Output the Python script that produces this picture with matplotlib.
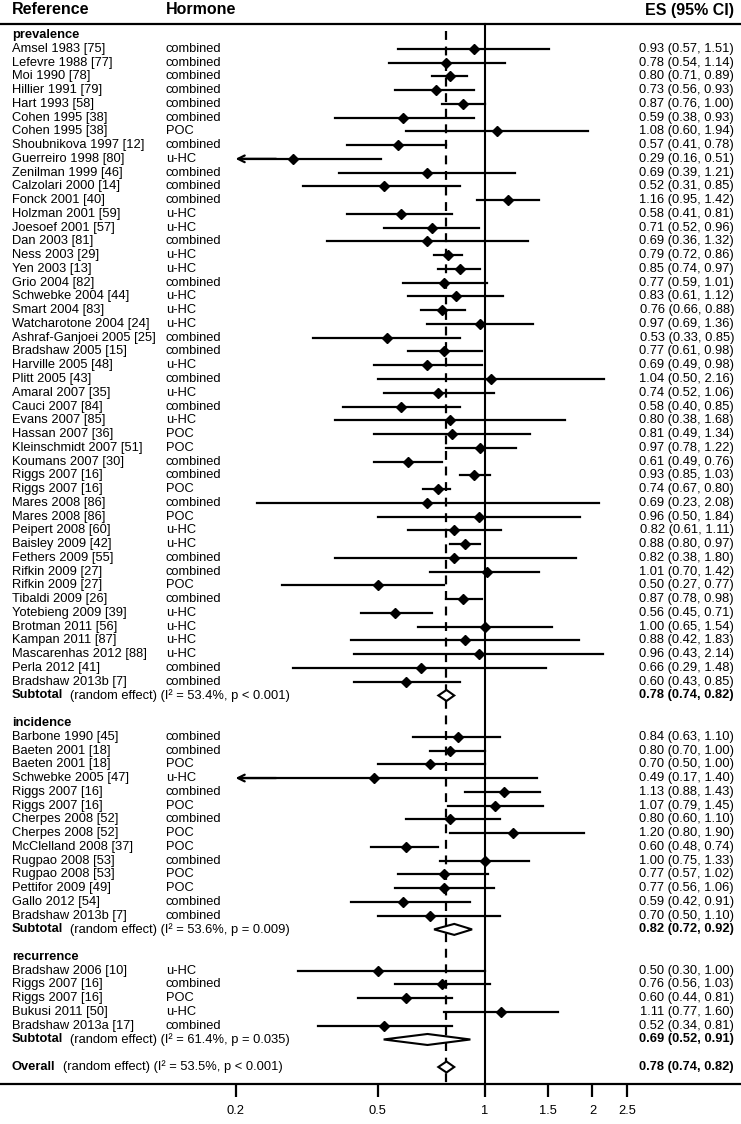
import numpy as np
import matplotlib.pyplot as plt
from matplotlib.patches import Polygon

plt.rcParams['font.family'] = ['Liberation Sans', 'DejaVu Sans']

# ---- data ----
groups = ['prevalence', 'incidence', 'recurrence']

prev_ref = ['Amsel 1983 [75]', 'Lefevre 1988 [77]', 'Moi 1990 [78]', 'Hillier 1991 [79]',
            'Hart 1993 [58]', 'Cohen 1995 [38]', 'Cohen 1995 [38]', 'Shoubnikova 1997 [12]',
            'Guerreiro 1998 [80]', 'Zenilman 1999 [46]', 'Calzolari 2000 [14]', 'Fonck 2001 [40]',
            'Holzman 2001 [59]', 'Joesoef 2001 [57]', 'Dan 2003 [81]', 'Ness 2003 [29]',
            'Yen 2003 [13]', 'Grio 2004 [82]', 'Schwebke 2004 [44]', 'Smart 2004 [83]',
            'Watcharotone 2004 [24]', 'Ashraf-Ganjoei 2005 [25]', 'Bradshaw 2005 [15]',
            'Harville 2005 [48]', 'Plitt 2005 [43]', 'Amaral 2007 [35]', 'Cauci 2007 [84]',
            'Evans 2007 [85]', 'Hassan 2007 [36]', 'Kleinschmidt 2007 [51]', 'Koumans 2007 [30]',
            'Riggs 2007 [16]', 'Riggs 2007 [16]', 'Mares 2008 [86]', 'Mares 2008 [86]',
            'Peipert 2008 [60]', 'Baisley 2009 [42]', 'Fethers 2009 [55]', 'Rifkin 2009 [27]',
            'Rifkin 2009 [27]', 'Tibaldi 2009 [26]', 'Yotebieng 2009 [39]', 'Brotman 2011 [56]',
            'Kampan 2011 [87]', 'Mascarenhas 2012 [88]', 'Perla 2012 [41]', 'Bradshaw 2013b [7]']
prev_horm = ['combined', 'combined', 'combined', 'combined', 'combined', 'combined', 'POC',
             'combined', 'u-HC', 'combined', 'combined', 'combined', 'u-HC', 'u-HC', 'combined',
             'u-HC', 'u-HC', 'combined', 'u-HC', 'u-HC', 'u-HC', 'combined', 'combined', 'u-HC',
             'combined', 'u-HC', 'combined', 'u-HC', 'POC', 'POC', 'combined', 'combined', 'POC',
             'combined', 'POC', 'u-HC', 'u-HC', 'combined', 'combined', 'POC', 'combined', 'u-HC',
             'u-HC', 'u-HC', 'u-HC', 'combined', 'combined']
prev_es = [0.93, 0.78, 0.80, 0.73, 0.87, 0.59, 1.08, 0.57, 0.29, 0.69, 0.52, 1.16, 0.58, 0.71,
           0.69, 0.79, 0.85, 0.77, 0.83, 0.76, 0.97, 0.53, 0.77, 0.69, 1.04, 0.74, 0.58, 0.80,
           0.81, 0.97, 0.61, 0.93, 0.74, 0.69, 0.96, 0.82, 0.88, 0.82, 1.01, 0.50, 0.87, 0.56,
           1.00, 0.88, 0.96, 0.66, 0.60]
prev_lo = [0.57, 0.54, 0.71, 0.56, 0.76, 0.38, 0.60, 0.41, 0.16, 0.39, 0.31, 0.95, 0.41, 0.52,
           0.36, 0.72, 0.74, 0.59, 0.61, 0.66, 0.69, 0.33, 0.61, 0.49, 0.50, 0.52, 0.40, 0.38,
           0.49, 0.78, 0.49, 0.85, 0.67, 0.23, 0.50, 0.61, 0.80, 0.38, 0.70, 0.27, 0.78, 0.45,
           0.65, 0.42, 0.43, 0.29, 0.43]
prev_hi = [1.51, 1.14, 0.89, 0.93, 1.00, 0.93, 1.94, 0.78, 0.51, 1.21, 0.85, 1.42, 0.81, 0.96,
           1.32, 0.86, 0.97, 1.01, 1.12, 0.88, 1.36, 0.85, 0.98, 0.98, 2.16, 1.06, 0.85, 1.68,
           1.34, 1.22, 0.76, 1.03, 0.80, 2.08, 1.84, 1.11, 0.97, 1.80, 1.42, 0.77, 0.98, 0.71,
           1.54, 1.83, 2.14, 1.48, 0.85]

inc_ref = ['Barbone 1990 [45]', 'Baeten 2001 [18]', 'Baeten 2001 [18]', 'Schwebke 2005 [47]',
           'Riggs 2007 [16]', 'Riggs 2007 [16]', 'Cherpes 2008 [52]', 'Cherpes 2008 [52]',
           'McClelland 2008 [37]', 'Rugpao 2008 [53]', 'Rugpao 2008 [53]', 'Pettifor 2009 [49]',
           'Gallo 2012 [54]', 'Bradshaw 2013b [7]']
inc_horm = ['combined', 'combined', 'POC', 'u-HC', 'combined', 'POC', 'combined', 'POC', 'POC',
            'combined', 'POC', 'POC', 'combined', 'combined']
inc_es = [0.84, 0.80, 0.70, 0.49, 1.13, 1.07, 0.80, 1.20, 0.60, 1.00, 0.77, 0.77, 0.59, 0.70]
inc_lo = [0.63, 0.70, 0.50, 0.17, 0.88, 0.79, 0.60, 0.80, 0.48, 0.75, 0.57, 0.56, 0.42, 0.50]
inc_hi = [1.10, 1.00, 1.00, 1.40, 1.43, 1.45, 1.10, 1.90, 0.74, 1.33, 1.02, 1.06, 0.91, 1.10]

rec_ref = ['Bradshaw 2006 [10]', 'Riggs 2007 [16]', 'Riggs 2007 [16]', 'Bukusi 2011 [50]',
           'Bradshaw 2013a [17]']
rec_horm = ['u-HC', 'combined', 'POC', 'u-HC', 'combined']
rec_es = [0.50, 0.76, 0.60, 1.11, 0.52]
rec_lo = [0.30, 0.56, 0.44, 0.77, 0.34]
rec_hi = [1.00, 1.03, 0.81, 1.60, 0.81]

sub_es = [0.78, 0.82, 0.69]
sub_lo = [0.74, 0.72, 0.52]
sub_hi = [0.82, 0.92, 0.91]
sub_i2 = ['53.4%', '53.6%', '61.4%']
sub_p = ['p < 0.001', 'p = 0.009', 'p = 0.035']

overall_es, overall_lo, overall_hi = 0.78, 0.74, 0.82
overall_i2, overall_p = '53.5%', 'p < 0.001'

xticks = [0.2, 0.5, 1, 1.5, 2, 2.5]
xmin_plot = 0.2

# ---- layout ----
W, H = 741, 1124
fig = plt.figure(figsize=(W / 100, H / 100), dpi=100)
ax = fig.add_axes([0, 0, 1, 1])
ax.set_xscale('log')
ax.set_xlim(np.exp(-485 / 155), np.exp((W - 485) / 155))
ax.set_ylim(H, 0)
for s in ['top', 'left', 'right']:
    ax.spines[s].set_visible(False)
tr = ax.get_yaxis_transform()

fs = 9.3
x_ref, x_horm, x_es = 12 / W, 166 / W, 734 / W
y0, step = 35, 13.76
axis_y = 1084

# header
ax.text(x_ref, 10, 'Reference', transform=tr, fontsize=11.5, fontweight='bold', va='center')
ax.text(x_horm, 10, 'Hormone', transform=tr, fontsize=11.5, fontweight='bold', va='center')
ax.text(x_es, 10, 'ES (95% CI)', transform=tr, fontsize=11.5, fontweight='bold', va='center', ha='right')
ax.axhline(24, color='black', lw=1.6)

def fmt(e, l, h):
    return f'{e:.2f} ({l:.2f}, {h:.2f})'

def diamond(e, l, h, y, half=5.5):
    ax.add_patch(Polygon([(l, y), (e, y - half), (h, y), (e, y + half)], closed=True,
                         facecolor='white', edgecolor='black', lw=1.5, zorder=4))

bold_pairs = []
data = [(prev_ref, prev_horm, prev_es, prev_lo, prev_hi),
        (inc_ref, inc_horm, inc_es, inc_lo, inc_hi),
        (rec_ref, rec_horm, rec_es, rec_lo, rec_hi)]

row = 0
for g, (refs, horms, es, lo, hi) in enumerate(data):
    y = y0 + step * row
    ax.text(x_ref, y, groups[g], transform=tr, fontsize=fs, fontweight='bold', va='center')
    row += 1
    for r, hm, e, l, h in zip(refs, horms, es, lo, hi):
        y = y0 + step * row
        ax.text(x_ref, y, r, transform=tr, fontsize=fs, va='center')
        ax.text(x_horm, y, hm, transform=tr, fontsize=fs, va='center')
        ax.text(x_es, y, fmt(e, l, h), transform=tr, fontsize=fs, va='center', ha='right')
        if l < xmin_plot:
            # CI runs off the left edge -> clip and draw an arrow
            ax.plot([xmin_plot * 1.06, h], [y, y], color='black', lw=1.6, zorder=3)
            ax.annotate('', xy=(xmin_plot, y), xytext=(xmin_plot * 1.3, y),
                        arrowprops=dict(arrowstyle='->', lw=1.6, color='black',
                                        mutation_scale=12, shrinkA=0, shrinkB=0))
        else:
            ax.plot([l, h], [y, y], color='black', lw=1.6, zorder=3)
        ax.plot(e, y, marker='D', ms=5, color='black', zorder=5)
        row += 1
    y = y0 + step * row
    t = ax.text(x_ref, y, 'Subtotal', transform=tr, fontsize=fs, fontweight='bold', va='center')
    bold_pairs.append((t, y, f'(random effect) (I\u00b2 = {sub_i2[g]}, {sub_p[g]})'))
    ax.text(x_es, y, fmt(sub_es[g], sub_lo[g], sub_hi[g]), transform=tr, fontsize=fs,
            fontweight='bold', va='center', ha='right')
    diamond(sub_es[g], sub_lo[g], sub_hi[g], y)
    row += 2

y = y0 + step * row
t = ax.text(x_ref, y, 'Overall', transform=tr, fontsize=fs, fontweight='bold', va='center')
bold_pairs.append((t, y, f'(random effect) (I\u00b2 = {overall_i2}, {overall_p})'))
ax.text(x_es, y, fmt(overall_es, overall_lo, overall_hi), transform=tr, fontsize=fs,
        fontweight='bold', va='center', ha='right')
diamond(overall_es, overall_lo, overall_hi, y)

# reference lines
ax.plot([1, 1], [24, axis_y], color='black', lw=1.5, zorder=2)
ax.plot([overall_es, overall_es], [31, axis_y], color='black', lw=1.6,
        linestyle=(0, (4, 3)), zorder=2)

# bottom axis
ax.spines['bottom'].set_position(('data', axis_y))
ax.spines['bottom'].set_linewidth(1.6)
ax.set_yticks([])
ax.set_xticks(xticks)
ax.set_xticklabels([f'{v:g}' for v in xticks])
ax.xaxis.set_minor_locator(plt.NullLocator())
ax.tick_params(axis='x', direction='out', length=9, width=1.6, labelsize=fs, pad=6)

# regular text after the bold labels
fig.canvas.draw()
rend = fig.canvas.get_renderer()
for t, y, rest in bold_pairs:
    bb = t.get_window_extent(rend)
    ax.text((bb.x1 + 7) / W, y, rest, transform=tr, fontsize=fs, va='center')

fig.savefig('out.png', dpi=100)
